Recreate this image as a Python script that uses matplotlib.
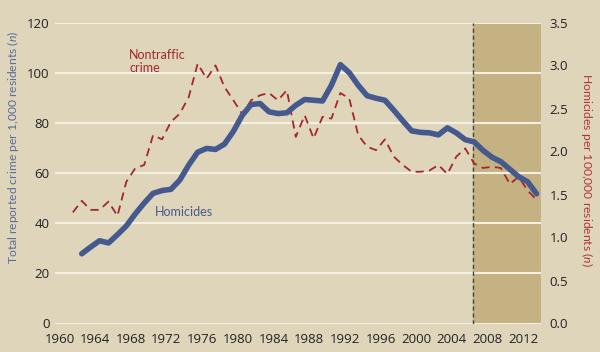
import numpy as np
import matplotlib
matplotlib.use("Agg")
import matplotlib.pyplot as plt

# values (left-axis units)
crime_years = list(range(1962, 2015))
crime = [44.3, 48.9, 45.3, 45.3, 48.6, 42.9, 56.5, 61.9, 63.2, 75.1,
         73.4, 80.4, 83.7, 90.3, 103.6, 97.6, 102.9, 94.3, 89.0, 83.5,
         89.0, 91.0, 91.9, 89.0, 93.0, 74.4, 83.0, 73.8, 82.4, 81.7,
         91.9, 89.7, 75.1, 70.5, 69.1, 73.4, 66.5, 63.2, 60.5, 60.5,
         61.0, 63.2, 59.6, 66.5, 69.8, 63.8, 62.0, 62.5, 62.0, 55.6,
         58.5, 53.0, 49.3]

hom_years = list(range(1963, 2015))
homicides = [27.8, 30.5, 33.0, 32.1, 35.4, 38.9, 43.7, 48.0, 51.9, 53.0,
             53.5, 57.2, 63.2, 68.3, 69.8, 69.4, 71.5, 76.6, 83.0, 87.3,
             87.7, 84.4, 83.7, 84.0, 87.0, 89.3, 89.0, 88.7, 95.0, 103.2,
             100.0, 95.0, 90.8, 89.8, 89.0, 85.0, 80.8, 76.8, 76.2, 76.0,
             75.2, 78.0, 76.0, 73.3, 72.4, 69.0, 66.3, 64.5, 61.5, 58.5,
             56.5, 51.7]

tick_years = list(range(1960, 2013, 4))
left_ticks = [0, 20, 40, 60, 80, 100, 120]
right_ticks = [0.0, 0.5, 1.0, 1.5, 2.0, 2.5, 3.0, 3.5]
shade_start = 2006.9

bg = "#dfd5bb"
shade = "#c5b282"
blue = "#45598f"
red = "#a3272d"
fs = 9.5   # tick labels
lfs = 8.7  # axis titles
afs = 9.0  # line labels
lab_font = ['Lato', 'DejaVu Sans']

plt.rcParams['font.family'] = ['Open Sans', 'DejaVu Sans']
plt.rcParams['mathtext.fontset'] = 'custom'
plt.rcParams['mathtext.it'] = 'Lato:italic'
plt.rcParams['mathtext.rm'] = 'Lato'

fig = plt.figure(figsize=(6, 3.52), dpi=100, facecolor=bg)
ax = fig.add_axes([55/600, 1 - 323.5/352, 486/600, 301/352])
ax.set_facecolor(bg)

ax.set_xlim(1960, 2014.5)
ax.set_ylim(0, 120)
ax.axvspan(shade_start, 2014.5, color=shade, zorder=0)
for v in left_ticks:
    ax.axhline(v, color="#f5f0e2", lw=1.5, zorder=1)
ax.axvline(shade_start, color="#444444", lw=1, ls=(0, (3, 2)), zorder=2)

ax.plot(crime_years, crime, color=red, lw=1.3, ls=(0, (4.5, 3)), zorder=3)
ax.plot(hom_years, homicides, color=blue, lw=4, solid_joinstyle='round',
        solid_capstyle='round', zorder=4)

ax.text(1968.3, 109.3, "Nontraffic\ncrime", color=red, fontsize=afs,
        family=lab_font, va='top', ha='left', linespacing=1.1)
ax.text(1971.2, 44.5, "Homicides", color=blue, fontsize=afs,
        family=lab_font, va='center', ha='left')

ax.set_xticks([y + 0.5 for y in tick_years])
ax.set_xticklabels([str(y) for y in tick_years])
ax.set_yticks(left_ticks)
ax.tick_params(length=0, labelsize=fs, colors="#222222", pad=4)
ax.tick_params(axis='x', pad=7)
for s in ax.spines.values():
    s.set_visible(False)

ax2 = ax.twinx()
ax2.set_ylim(0, 3.5)
ax2.set_yticks(right_ticks)
ax2.set_yticklabels([f"{v:.1f}" for v in right_ticks])
ax2.tick_params(length=0, labelsize=fs, colors="#222222", pad=6)
for s in ax2.spines.values():
    s.set_visible(False)

fig.text(13/600, 1 - 147/352, "Total reported crime per 1,000 residents ($\\it{n}$)",
         color="#5a6b98", fontsize=lfs, family=lab_font, rotation=90,
         ha='center', va='center')
fig.text(587/600, 1 - 170/352, "Homicides per 100,000 residents ($\\it{n}$)",
         color="#b0343a", fontsize=lfs, family=lab_font, rotation=270,
         ha='center', va='center')

fig.savefig("out.png", dpi=100, facecolor=bg)
